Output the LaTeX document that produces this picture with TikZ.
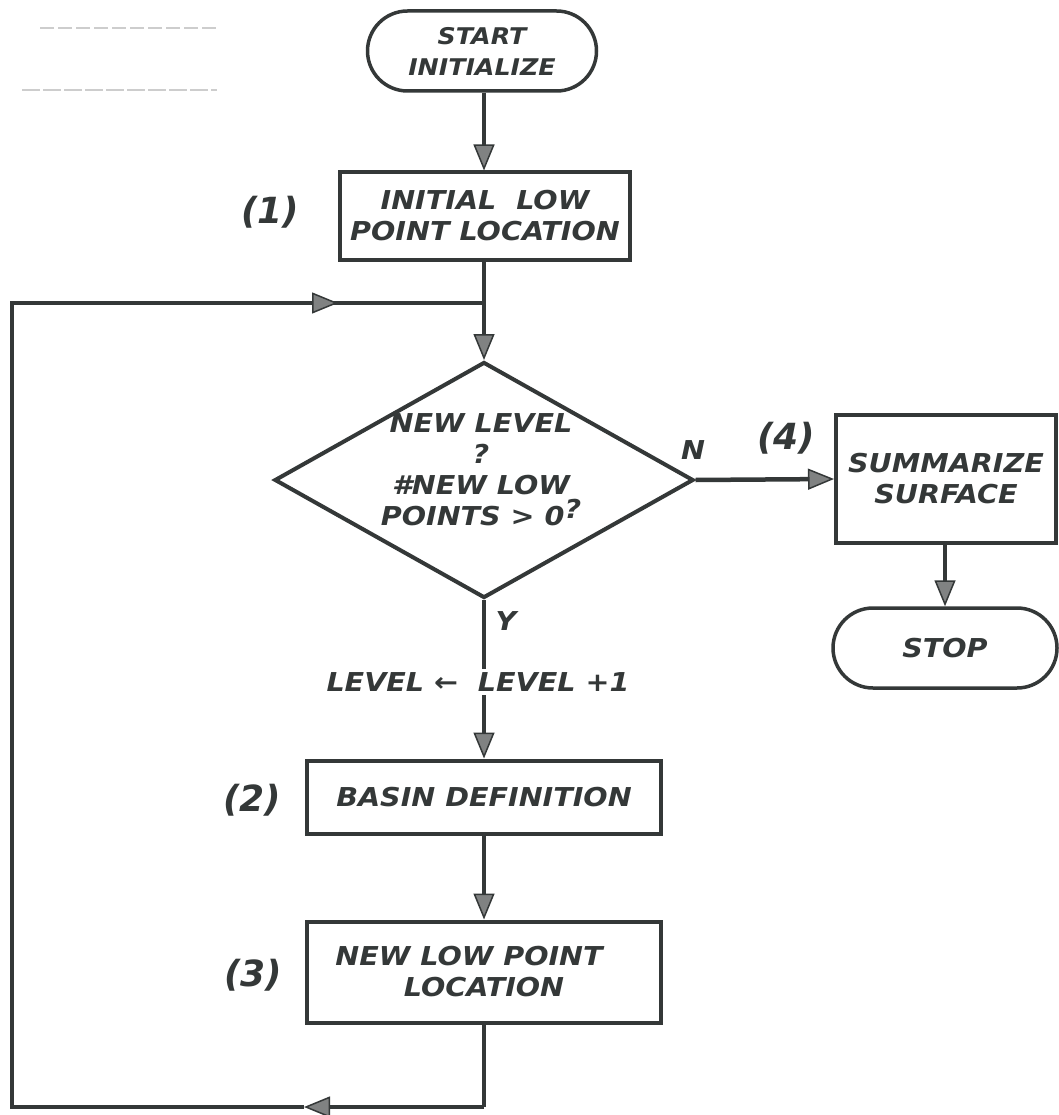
\documentclass[tikz,border=0pt]{standalone}
\usepackage{fontspec}
\newfontfamily\lettering{DejaVu Sans}[FakeStretch=1.1]
\newfontfamily\numfont{DejaVu Sans}
\usetikzlibrary{arrows.meta,shapes.geometric}
\definecolor{ink}{RGB}{52,56,56}
\definecolor{tipfill}{RGB}{128,130,130}
\definecolor{faint}{RGB}{205,205,205}
\begin{document}
\begin{tikzpicture}[x=1pt,y=-1pt,
  every node/.style={font=\lettering\bfseries\itshape\fontsize{26}{31}\selectfont, text=ink},
  proc/.style={draw=ink, line width=4pt, rectangle, inner sep=0pt, align=center},
  term/.style={draw=ink, line width=3.5pt, rectangle, inner sep=0pt, align=center},
  dec/.style={draw=ink, line width=4pt, diamond, aspect=1.78, inner sep=0pt},
  num/.style={font=\numfont\bfseries\itshape\fontsize{36}{40}\selectfont},
  flow/.style={draw=ink, line width=4.5pt},
  arr/.style={flow, -{Triangle[length=26pt,width=21pt,fill=tipfill,line width=1.5pt]}},
]
\useasboundingbox (0,0) rectangle (1058,1115);
\fill[white] (0,0) rectangle (1058,1115);
% faint scan marks
\draw[faint, line width=1.5pt, dash pattern=on 14pt off 4pt] (40,28) -- (217,28);
\draw[faint, line width=1.5pt, dash pattern=on 18pt off 3pt] (22,90) -- (217,90);

\node[term, minimum width=229pt, minimum height=80pt, rounded corners=40pt,
      font=\lettering\bfseries\itshape\fontsize{23}{31}\selectfont] (start) at (482,51) {START\\INITIALIZE};
\node[proc, minimum width=290pt, minimum height=87pt] (b1) at (485,216) {INITIAL\ \ LOW\\POINT LOCATION};
\node[num] (n1) at (270,212) {(1)};

\node[dec, minimum width=419pt, minimum height=236pt] (dec) at (484,480) {};
\node[align=center] (dectext) at (481,470) {NEW LEVEL\\?\\\#NEW LOW\\POINTS > 0\raisebox{0.5ex}{?}};
\node (nlab) at (693,450) {N};
\node (ylab) at (506,621) {Y};

\node[proc, minimum width=220pt, minimum height=128pt] (b4) at (946,479) {SUMMARIZE\\SURFACE};
\node[num] (n4) at (786,438) {(4)};
\node[term, minimum width=224pt, minimum height=80pt, rounded corners=40pt] (stop) at (945,648) {STOP};

\node (lvl) at (478,682) {LEVEL ←\ \ LEVEL +1};

\node[proc, minimum width=354pt, minimum height=73pt] (b2) at (484,797) {BASIN DEFINITION};
\node[num] (n2) at (252,800) {(2)};
\node[proc, minimum width=354pt, minimum height=101pt] (b3) at (484,972) {NEW LOW POINT\hspace*{30pt}\\LOCATION};
\node[num] (n3) at (253,975) {(3)};

\coordinate (tj) at (484,303);
\coordinate (tm) at (338,303);
\coordinate (tl) at (12,303);
\coordinate (bl) at (12,1107);
\coordinate (bm) at (304,1107);
\coordinate (bj) at (484,1107);

\draw[arr] (start.south -| tj) -- (b1.north -| tj);
\draw[arr] (b1.south -| tj) -- (dec.north);
\draw[arr] (dec.east) -- (b4.west);
\draw[arr] (b4.south -| stop) -- (stop);
\draw[flow] (dec.south) -- (dec.south |- lvl.north);
\draw[arr] (dec.south |- lvl.south) -- (b2.north -| dec.south);
\draw[arr] (b2.south -| dec.south) -- (b3.north -| dec.south);
\draw[flow] (b3.south -| bj) -- (bj);
\draw[arr] (bj) -- (bm);
\draw[flow, line join=miter] (bm) -- (bl) -- (tl) -- (tm);
\draw[arr] (tl) -- (tm);
\draw[flow] (tm) -- (tj);
\end{tikzpicture}
\end{document}
